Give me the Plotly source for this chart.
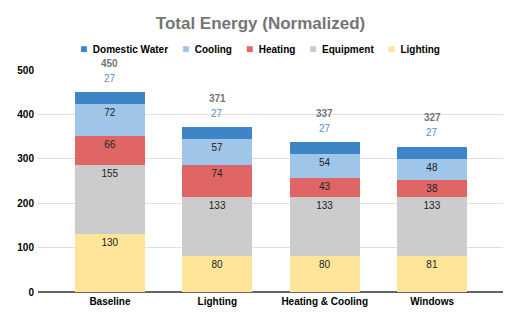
import plotly.graph_objects as go

categories = ["Baseline", "Lighting", "Heating & Cooling", "Windows"]
lighting = [130, 80, 80, 81]
equipment = [155, 133, 133, 133]
heating = [66, 74, 43, 38]
cooling = [72, 57, 54, 48]
domestic_water = [27, 27, 27, 27]

series = [
    ("Lighting", lighting, "#ffe599"),
    ("Equipment", equipment, "#cccccc"),
    ("Heating", heating, "#e06666"),
    ("Cooling", cooling, "#9fc5e8"),
    ("Domestic Water", domestic_water, "#3d85c6"),
]

fig = go.Figure()
for name, vals, color in series:
    show_text = name != "Domestic Water"
    fig.add_trace(go.Bar(
        name=name, x=categories, y=vals,
        marker=dict(color=color, line=dict(width=0)),
        text=[str(v) for v in vals] if show_text else None,
        textposition="inside", insidetextanchor="end", constraintext="none",
        textfont=dict(family="Liberation Sans, Arial", size=10, color="#222222"),
        width=0.65, showlegend=False,
    ))

totals = [sum(t) for t in zip(lighting, equipment, heating, cooling, domestic_water)]
for c, tot, dw in zip(categories, totals, domestic_water):
    fig.add_annotation(x=c, y=tot, text=str(dw), showarrow=False, yshift=14,
                       font=dict(family="Liberation Sans, Arial", size=10, color="#5b8ec7"))
    fig.add_annotation(x=c, y=tot, text="<b>%d</b>" % tot, showarrow=False, yshift=29,
                       font=dict(family="Liberation Sans, Arial", size=10, color="#757575"))

# compact legend as text (reverse stack order)
legend_parts = []
for name, vals, color in reversed(series):
    legend_parts.append("<span style='color:%s;font-size:12px'>■</span>&nbsp;&nbsp;<b>%s</b>" % (color, name))
fig.add_annotation(xref="paper", yref="paper", x=0.477, y=1 + 21 / 222, xanchor="center",
                   yanchor="middle", showarrow=False,
                   text="&nbsp;&nbsp;&nbsp;&nbsp;&nbsp;".join(legend_parts),
                   font=dict(family="Liberation Sans, Arial", size=10, color="#000000"))

fig.update_layout(
    barmode="stack",
    width=521, height=323,
    margin=dict(l=38, r=18, t=70, b=31),
    paper_bgcolor="white", plot_bgcolor="white",
    title=dict(text="<b>Total Energy (Normalized)</b>", x=0.5, xanchor="center",
               y=1 - 23 / 323, yanchor="middle",
               font=dict(family="Liberation Sans, Arial", size=17, color="#757575")),
    font=dict(family="Liberation Sans, Arial"),
    showlegend=False,
)
fig.update_xaxes(range=[-0.67, 3.66], showgrid=False, showline=False, ticks="",
                 tickfont=dict(size=10, color="#000000", weight="bold"),
                 ticklabelstandoff=2)
fig.update_yaxes(range=[0, 500], dtick=100, showgrid=True, gridcolor="#e0e0e0",
                 zeroline=True, zerolinecolor="#666666", zerolinewidth=1.5,
                 tickfont=dict(size=10, color="#000000", weight="bold"), ticks="",
                 ticklabelstandoff=3)
fig.update_traces(cliponaxis=False)

fig.write_html("out.html")
